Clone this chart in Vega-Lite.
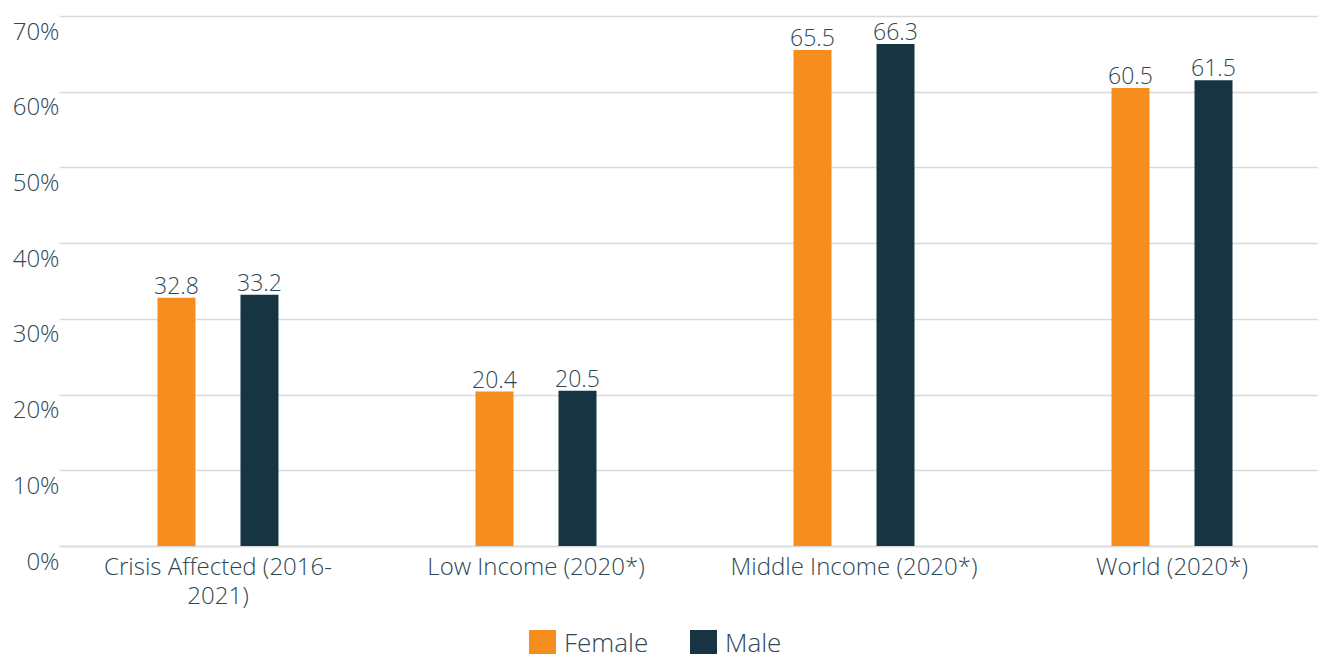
{
  "$schema": "https://vega.github.io/schema/vega-lite/v6.json",
  "width": 1272,
  "height": 530,
  "autosize": {"type": "none"},
  "padding": {"left": 59, "top": 16, "right": 0, "bottom": 108},
  "background": "white",
  "config": {
    "view": {"stroke": null},
    "font": "Open Sans",
    "axis": {"labelColor": "#2e4755", "labelFont": "Open Sans", "labelFontWeight": 300, "gridColor": "#d9d9d9", "domainColor": "#d9d9d9"}
  },
  "data": {
    "values": [
      {"group": "Crisis Affected (2016-2021)", "sex": "Female", "value": 32.8},
      {"group": "Crisis Affected (2016-2021)", "sex": "Male", "value": 33.2},
      {"group": "Low Income (2020*)", "sex": "Female", "value": 20.4},
      {"group": "Low Income (2020*)", "sex": "Male", "value": 20.5},
      {"group": "Middle Income (2020*)", "sex": "Female", "value": 65.5},
      {"group": "Middle Income (2020*)", "sex": "Male", "value": 66.3},
      {"group": "World (2020*)", "sex": "Female", "value": 60.5},
      {"group": "World (2020*)", "sex": "Male", "value": 61.5}
    ]
  },
  "encoding": {
    "x": {
      "field": "group", "type": "nominal", "sort": null,
      "scale": {"paddingInner": 0.6195, "paddingOuter": 0.3097},
      "axis": {
        "title": null, "labelAngle": 0, "ticks": false, "grid": false,
        "domain": true, "domainWidth": 1.5, "labelLimit": 500,
        "labelFontSize": 24, "labelPadding": 9, "labelLineHeight": 29,
        "labelBaseline": "top",
        "labelExpr": "datum.value == 'Crisis Affected (2016-2021)' ? ['Crisis Affected (2016-', '2021)'] : datum.label"
      }
    },
    "xOffset": {"field": "sex", "type": "nominal", "scale": {"paddingInner": 0.5422, "paddingOuter": 0}},
    "y": {
      "field": "value", "type": "quantitative",
      "scale": {"domain": [0, 70]},
      "axis": {
        "title": null, "values": [0, 10, 20, 30, 40, 50, 60, 70],
        "domain": false, "ticks": false, "grid": true, "gridWidth": 1.5,
        "labelFontSize": 24, "labelPadding": 0, "labelOffset": 16,
        "labelExpr": "datum.value + '%'"
      }
    }
  },
  "layer": [
    {
      "mark": {"type": "bar"},
      "encoding": {
        "color": {
          "field": "sex", "type": "nominal",
          "scale": {"domain": ["Female", "Male"], "range": ["#F68D1F", "#173443"]},
          "legend": {
            "title": null, "orient": "none", "direction": "horizontal",
            "legendX": 470, "legendY": 614,
            "symbolType": "square", "symbolSize": 729, "symbolStrokeWidth": 0,
            "labelFontSize": 26, "labelFontWeight": 300, "labelColor": "#2e4755", "labelFont": "Open Sans",
            "labelOffset": 8, "columnPadding": 41, "padding": 0
          }
        }
      }
    },
    {
      "mark": {"type": "text", "baseline": "alphabetic", "dy": -4, "fontSize": 23, "fontWeight": 300, "color": "#2e4755", "font": "Open Sans"},
      "encoding": {
        "text": {"field": "value", "type": "quantitative", "format": ".1f"}
      }
    }
  ]
}
